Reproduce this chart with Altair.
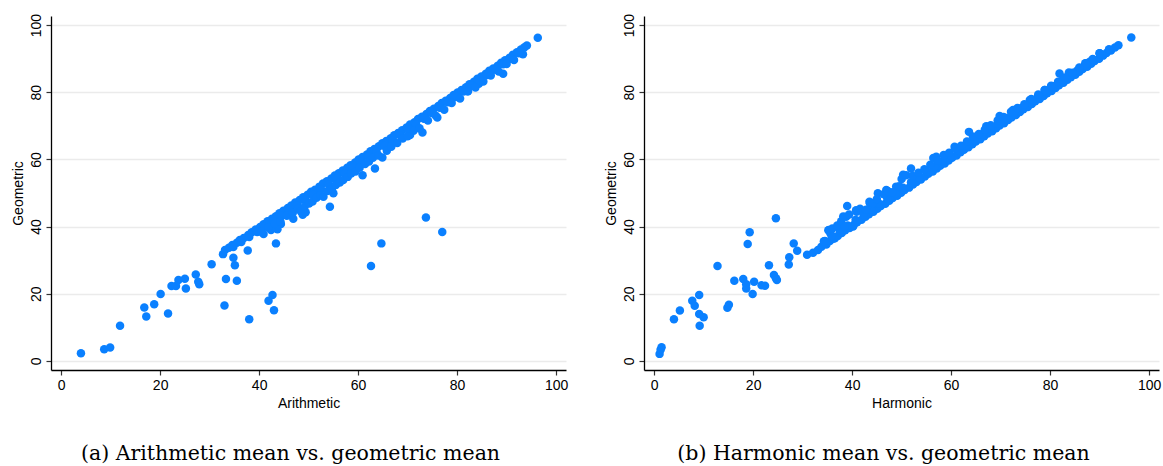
import altair as alt
import pandas as pd

# ---- Panel (a): arithmetic mean (x) vs. geometric mean (y) ----
arith = [
    # sparse low end and off-diagonal observations
    4.0, 8.7, 9.9, 11.9, 16.8, 17.2, 18.8, 20.1, 21.6, 22.3, 23.2, 23.7, 25.0, 25.2,
    27.2, 27.7, 27.9, 30.4, 32.7, 33.1, 33.3, 33.0, 34.8, 35.1, 35.5, 38.0, 37.7,
    41.9, 42.7, 43.0, 43.4, 62.6, 64.7, 73.7, 77.0, 54.3, 55.0, 46.9, 48.8, 49.4,
    44.4, 43.7, 42.4, 40.9, 60.9, 63.4, 64.9, 73.0, 70.5, 76.0, 82.1, 84.4, 89.3, 93.3,
    # main band, upper row
    33.9, 34.6, 35.5, 36.1, 36.9, 37.8, 38.5, 39.3, 40.2, 40.9, 41.7, 42.6, 43.4, 44.1,
    44.9, 45.8, 46.5, 47.3, 48.2, 48.9, 49.8, 50.5, 51.3, 52.2, 52.9, 53.7, 54.6, 55.3,
    56.1, 56.9, 57.8, 58.5, 59.4, 60.1, 60.9, 61.8, 62.5, 63.3, 64.2, 64.9, 65.7, 66.6,
    67.3, 68.1, 68.9, 69.8, 70.5, 71.4, 72.1, 72.9, 73.8, 74.5, 75.3, 76.2, 76.9, 77.7,
    78.6, 79.3, 80.1, 80.9, 81.8, 82.5, 83.4, 84.1, 84.9, 85.8, 86.5, 87.3, 88.2, 88.9,
    89.7, 90.6, 91.3, 92.1, 92.9, 93.6, 94.1, 96.3,
    # main band, second row
    34.8, 36.4, 38.0, 39.6, 41.2, 42.9, 44.5, 46.1, 47.7, 49.3, 50.9, 52.5, 54.1, 55.7,
    57.3, 58.9, 60.5, 62.1, 63.7, 65.3, 66.9, 68.5, 70.1, 71.7, 73.3, 74.9, 76.5, 78.1,
    79.7, 81.3, 82.9, 84.5, 86.1, 87.7, 89.3, 90.9, 92.5,
    # main band, lower spread
    40.5, 41.9, 43.1, 44.3, 45.6, 46.8, 47.9, 48.4, 49.2, 50.1, 50.8, 51.6, 52.4, 53.0,
    53.8, 54.7, 55.5, 56.3, 57.0, 57.9, 58.6, 59.5, 60.3, 61.4, 62.2, 63.0, 64.1, 65.8,
    66.7, 67.9, 69.0, 70.0, 71.2, 72.4, 74.1, 75.7, 77.4, 78.9, 80.6, 82.2, 83.7, 85.3,
    86.8, 88.4, 90.0, 91.5,
]
geo_a = [
    2.3, 3.5, 4.0, 10.5, 15.9, 13.2, 16.9, 19.9, 14.1, 22.3, 22.3, 24.1, 24.5, 21.6,
    25.7, 23.6, 22.8, 28.8, 31.8, 33.0, 24.4, 16.5, 30.7, 28.5, 23.9, 12.4, 32.9,
    17.9, 19.6, 15.1, 35.0, 28.3, 35.0, 42.7, 38.4, 45.9, 49.9, 42.3, 43.5, 44.3,
    40.8, 39.2, 39.0, 37.8, 55.3, 57.3, 60.6, 68.0, 67.3, 72.5, 80.3, 82.5, 85.5, 91.3,
    33.7, 34.5, 35.2, 36.0, 36.6, 37.5, 38.3, 39.1, 39.9, 40.7, 41.6, 42.3, 43.1, 44.0,
    44.7, 45.5, 46.3, 47.2, 47.9, 48.7, 49.5, 50.4, 51.0, 51.9, 52.8, 53.5, 54.3, 55.2,
    55.9, 56.7, 57.5, 58.3, 59.1, 60.0, 60.7, 61.5, 62.4, 63.1, 63.9, 64.8, 65.5, 66.3,
    67.2, 67.9, 68.7, 69.5, 70.4, 71.1, 72.0, 72.7, 73.5, 74.4, 75.1, 75.9, 76.8, 77.5,
    78.3, 79.2, 79.9, 80.7, 81.5, 82.4, 83.1, 84.0, 84.7, 85.5, 86.4, 87.1, 87.9, 88.8,
    89.5, 90.3, 91.2, 91.9, 92.7, 93.4, 93.9, 96.2,
    33.9, 35.4, 36.9, 38.4, 40.0, 41.6, 43.2, 44.8, 46.3, 47.9, 49.5, 51.1, 52.6, 54.3,
    55.9, 57.6, 59.2, 60.8, 62.4, 64.0, 65.6, 67.2, 68.9, 70.5, 72.1, 73.8, 75.4, 77.0,
    78.6, 80.2, 81.9, 83.5, 85.1, 86.7, 88.3, 90.0, 91.6,
    38.4, 39.8, 40.9, 41.5, 43.2, 44.1, 45.3, 44.6, 46.0, 46.9, 47.5, 48.6, 49.3, 48.9,
    50.6, 51.2, 52.4, 53.1, 53.9, 54.8, 55.8, 56.4, 57.5, 58.6, 59.4, 60.5, 61.2, 62.6,
    63.8, 64.9, 66.2, 66.9, 68.5, 69.3, 71.6, 73.0, 74.8, 76.8, 78.1, 80.3, 81.4, 83.2,
    85.0, 86.2, 88.4, 89.6,
]

# ---- Panel (b): harmonic mean (x) vs. geometric mean (y) ----
harm = [
    # sparse low end and off-diagonal observations
    1.1, 1.3, 1.5, 4.0, 5.2, 7.7, 8.2, 9.1, 9.1, 9.2, 10.0, 12.8, 14.8, 15.1, 16.2,
    18.0, 18.6, 18.6, 18.9, 19.3, 19.9, 20.2, 21.7, 22.4, 23.2, 24.2, 24.6, 24.8,
    24.6, 27.2, 27.3, 28.2, 28.9, 30.9, 32.1, 33.1, 34.5, 34.8, 35.3, 35.6, 36.5,
    37.5, 39.0, 38.8, 40.2, 40.9, 43.6, 45.2, 46.9, 48.9, 51.9, 50.3, 63.6, 67.1,
    69.8, 72.5, 57.0, 60.7, 75.9, 78.9, 81.9, 83.8, 85.3, 87.1, 88.0, 90.0, 96.4,
    # main band, lower row
    33.8, 34.6, 35.5, 36.2, 37.1, 37.9, 38.6, 39.5, 40.3, 41.0, 41.9, 42.7, 43.4, 44.3,
    45.1, 45.8, 46.7, 47.5, 48.2, 49.1, 49.9, 50.6, 51.5, 52.3, 53.0, 53.9, 54.7, 55.4,
    56.3, 57.1, 57.8, 58.7, 59.5, 60.2, 61.1, 61.9, 62.6, 63.5, 64.3, 65.0, 65.9, 66.7,
    67.4, 68.3, 69.1, 69.8, 70.7, 71.5, 72.2, 73.1, 73.9, 74.6, 75.5, 76.3, 77.0, 77.9,
    78.7, 79.4, 80.3, 81.1, 81.8, 82.7, 83.5, 84.2, 85.1, 85.9, 86.6, 87.5, 88.3, 89.0,
    89.9, 90.7, 91.4, 92.3, 93.1, 93.8,
    # main band, second row
    34.3, 35.9, 37.5, 39.1, 40.7, 42.3, 43.9, 45.5, 47.1, 48.7, 50.3, 51.9, 53.5, 55.1,
    56.7, 58.3, 59.9, 61.5, 63.1, 64.7, 66.3, 67.9, 69.5, 71.1, 72.7, 74.3, 75.9, 77.5,
    79.1, 80.7, 82.3, 83.9, 85.5, 87.1, 88.7, 90.3, 91.9,
    # main band, upper spread
    35.2, 36.0, 37.0, 37.8, 38.2, 38.5, 39.4, 40.8, 41.6, 42.8, 43.5, 44.2, 45.0, 46.4,
    47.2, 48.1, 49.5, 50.0, 50.9, 52.2, 53.4, 54.6, 55.8, 56.4, 57.3, 58.5, 59.6, 60.8,
    62.0, 63.2, 64.4, 65.6, 66.8, 68.0, 69.4, 70.6, 72.1, 73.4, 74.8, 76.2, 77.6, 78.9,
    80.2, 81.6, 83.0, 84.5, 85.9, 87.3, 88.6, 90.0,
]
geo_b = [
    2.1, 3.3, 4.1, 12.4, 15.0, 17.9, 16.4, 19.6, 14.0, 10.5, 13.0, 28.3, 15.8, 16.7, 23.9,
    24.4, 22.8, 21.6, 34.8, 38.3, 19.9, 23.6, 22.5, 22.4, 28.5, 25.6, 24.6, 24.1,
    42.5, 28.7, 30.9, 35.0, 32.8, 31.6, 32.2, 33.0, 35.7, 34.7, 39.0, 38.0, 36.5,
    40.5, 46.1, 42.9, 40.0, 44.4, 46.9, 49.9, 50.9, 51.9, 57.3, 55.4, 68.2, 69.9,
    72.9, 74.7, 60.8, 63.8, 77.7, 80.7, 85.6, 85.9, 86.1, 88.6, 89.1, 91.6, 96.3,
    34.0, 34.9, 35.7, 36.4, 37.2, 38.1, 38.9, 39.6, 40.5, 41.3, 42.0, 42.9, 43.7, 44.4,
    45.3, 46.1, 46.8, 47.7, 48.5, 49.2, 50.1, 50.9, 51.6, 52.5, 53.3, 54.0, 54.9, 55.7,
    56.4, 57.3, 58.1, 58.8, 59.7, 60.5, 61.2, 62.1, 62.9, 63.6, 64.5, 65.3, 66.0, 66.9,
    67.7, 68.4, 69.3, 70.1, 70.8, 71.7, 72.5, 73.2, 74.1, 74.9, 75.6, 76.5, 77.3, 78.0,
    78.9, 79.7, 80.4, 81.3, 82.1, 82.8, 83.7, 84.5, 85.2, 86.1, 86.9, 87.6, 88.5, 89.3,
    90.0, 90.9, 91.7, 92.4, 93.3, 94.0,
    35.6, 37.2, 38.8, 40.3, 42.0, 43.6, 45.1, 46.8, 48.4, 49.9, 51.6, 53.2, 54.7, 56.4,
    58.0, 59.5, 61.2, 62.7, 64.3, 65.9, 67.5, 69.1, 70.6, 72.3, 73.8, 75.4, 77.0, 78.6,
    80.2, 81.8, 83.4, 84.9, 86.5, 88.1, 89.7, 91.2, 92.8,
    38.9, 39.4, 40.3, 41.6, 43.0, 40.0, 43.6, 44.9, 45.3, 45.0, 47.4, 47.0, 48.2, 49.6,
    50.6, 50.2, 52.0, 54.2, 55.3, 55.1, 56.0, 57.1, 58.4, 60.4, 59.6, 61.3, 62.0, 63.2,
    64.1, 65.3, 66.8, 67.6, 68.8, 70.2, 71.6, 72.6, 74.2, 75.3, 76.4, 78.0, 79.3, 80.7,
    81.9, 83.1, 84.4, 85.8, 87.4, 88.6, 89.9, 91.6,
]

captions = [
    "(a) Arithmetic mean vs. geometric mean",
    "(b) Harmonic mean vs. geometric mean",
]
ticks = [0, 20, 40, 60, 80, 100]

POINT_COLOR = "#0A80FF"
SANS = "Liberation Sans"
SERIF = "DejaVu Serif"


def panel(xs, ys, xtitle, caption):
    df = pd.DataFrame({"x": xs, "y": ys})
    return (
        alt.Chart(df)
        .mark_circle(size=72, opacity=1, color=POINT_COLOR)
        .encode(
            x=alt.X(
                "x:Q",
                title=xtitle,
                scale=alt.Scale(domain=[-2.05, 102.0], nice=False, zero=False),
                axis=alt.Axis(values=ticks, grid=False, titlePadding=4),
            ),
            y=alt.Y(
                "y:Q",
                title="Geometric",
                scale=alt.Scale(domain=[-2.7, 102.7], nice=False, zero=False),
                axis=alt.Axis(
                    values=ticks,
                    grid=True,
                    labelAngle=270,
                    labelAlign="center",
                    labelBaseline="bottom",
                    titlePadding=4,
                ),
            ),
        )
        .properties(
            width=515,
            height=354,
            title=alt.TitleParams(
                caption,
                orient="bottom",
                anchor="middle",
                frame="group",
                font=SERIF,
                fontSize=20.5,
                fontWeight="normal",
                color="#000000",
                offset=34,
                dx=-18,
            ),
        )
    )


left = panel(arith, geo_a, "Arithmetic", captions[0])
right = panel(harm, geo_b, "Harmonic", captions[1])

chart = (
    alt.hconcat(left, right, spacing=36)
    .properties(padding={"left": 11, "top": 13, "right": 2, "bottom": 0}, background="white")
    .configure_view(stroke=None)
    .configure_axis(
        labelFont=SANS,
        titleFont=SANS,
        labelFontSize=14,
        titleFontSize=14,
        titleFontWeight="normal",
        labelColor="#000000",
        titleColor="#000000",
        domainColor="#000000",
        domainWidth=1.3,
        tickColor="#333333",
        tickWidth=1.2,
        tickSize=5,
        labelPadding=3,
        gridColor="#EBEBEB",
        gridWidth=1.4,
    )
)

chart.save("out.html", embed_options={"renderer": "svg", "actions": False})
